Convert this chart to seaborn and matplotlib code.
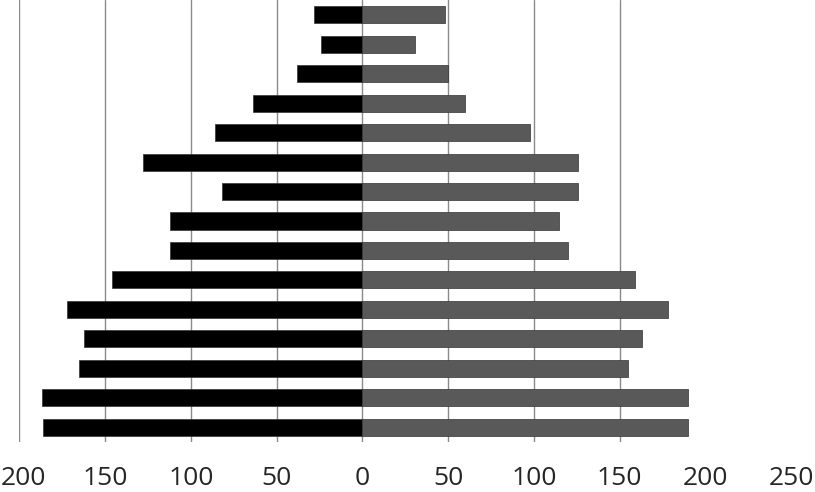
import seaborn as sns
import pandas as pd
import matplotlib.pyplot as plt
import matplotlib.transforms as mtransforms
import numpy as np

# rows top to bottom
groups = [f"g{i}" for i in range(1, 16)]
left_values = [28, 24, 38, 64, 86, 128, 82, 112, 112, 146, 172, 162, 165, 187, 186]
right_values = [48, 31, 50, 60, 98, 126, 126, 115, 120, 159, 178, 163, 155, 190, 190]
tick_values = [-200, -150, -100, -50, 0, 50, 100, 150, 200, 250]
grid_values = [-200, -150, -100, -50, 0, 50, 100, 150]

df = pd.DataFrame({
    'group': groups * 2,
    'value': [-v for v in left_values] + right_values,
    'side': ['left'] * len(groups) + ['right'] * len(groups),
})

sns.set_style("white")
plt.rcParams['font.family'] = ['Open Sans', 'DejaVu Sans']

fig = plt.figure(figsize=(8.15, 4.92), dpi=100)
ax = fig.add_axes([19.3 / 815, 50 / 492, 1 - 19.3 / 815, 442 / 492])

for v in grid_values:
    ax.axvline(v, color='#8a8a8a', lw=1, zorder=0)

sns.barplot(data=df, y='group', x='value', hue='side', order=groups,
            palette={'left': '#000000', 'right': '#595959'},
            dodge=False, width=0.58, orient='h', legend=False,
            edgecolor='#333333', linewidth=0.5, ax=ax, zorder=2)

ax.set_xlim(-200, 264)
ax.set_ylim(len(groups) - 0.5, -0.5)
ax.set_xticks(tick_values)
ax.set_xticklabels([str(abs(t)) for t in tick_values], fontsize=19)
ax.set_yticks([])
ax.tick_params(axis='x', length=0, pad=17)
ax.set_xlabel('')
ax.set_ylabel('')
for s in ax.spines.values():
    s.set_visible(False)

# nudge the leftmost label so it is not clipped by the figure edge
first = ax.get_xticklabels()[0]
first.set_transform(first.get_transform() +
                    mtransforms.ScaledTranslation(4 / 100, 0, fig.dpi_scale_trans))

fig.savefig("out.png", dpi=100)
